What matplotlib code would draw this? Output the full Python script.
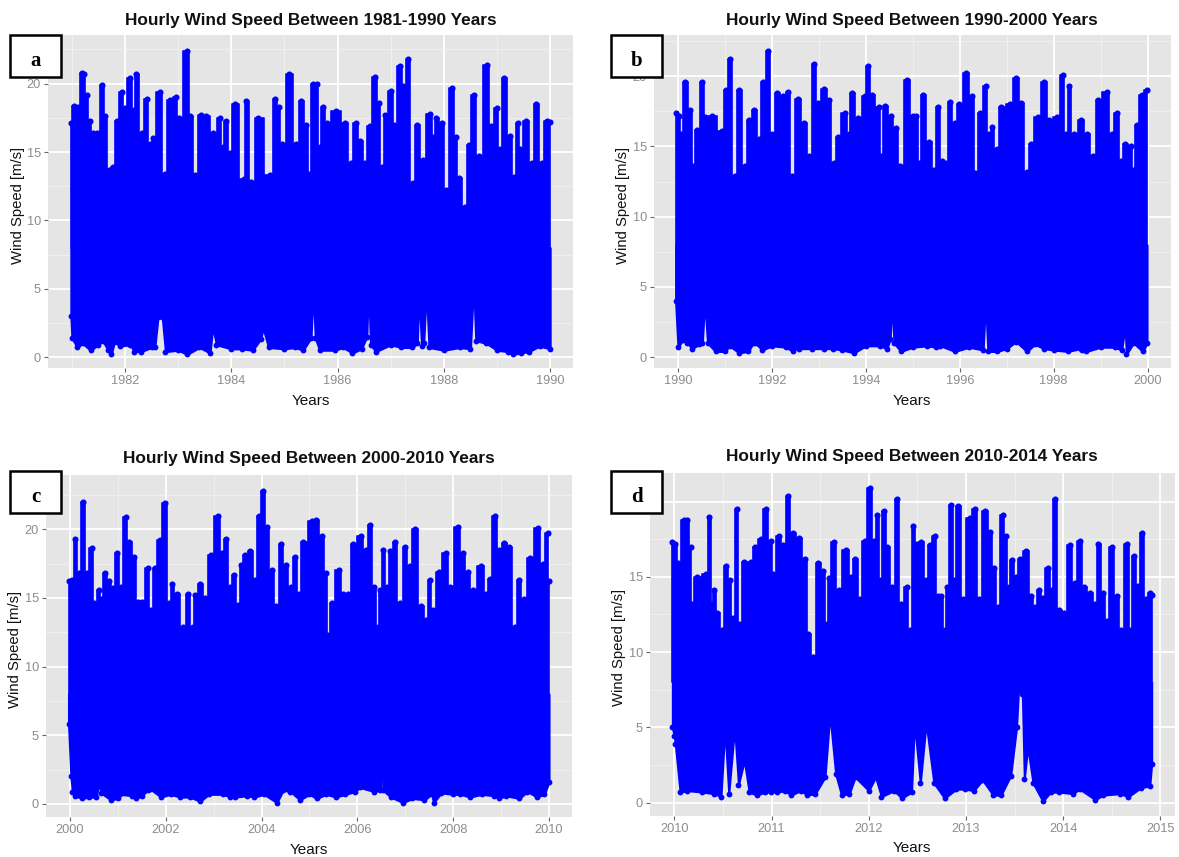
import matplotlib
matplotlib.use("Agg")
import matplotlib.pyplot as plt
from matplotlib.patches import Rectangle

plt.rcParams['font.family'] = ['Liberation Sans', 'DejaVu Sans']

W, H = 1179, 857

# ---- panel a: 1981-1990 ----
a_top_x = [1980.98,1981.03,1981.11,1981.19,1981.23,1981.28,1981.34,1981.39,1981.47,1981.57,1981.62,1981.69,1981.78,1981.85,1981.94,1981.99,1982.10,1982.16,1982.21,1982.31,1982.41,1982.47,1982.53,1982.65,1982.75,1982.84,1982.95,1983.02,1983.16,1983.23,1983.31,1983.43,1983.52,1983.66,1983.79,1983.84,1983.90,1983.98,1984.06,1984.23,1984.28,1984.37,1984.51,1984.73,1984.83,1984.90,1984.95,1985.09,1985.22,1985.32,1985.40,1985.47,1985.54,1985.62,1985.66,1985.72,1985.80,1985.97,1986.14,1986.25,1986.34,1986.43,1986.51,1986.61,1986.70,1986.77,1986.84,1986.90,1987.01,1987.07,1987.17,1987.24,1987.32,1987.41,1987.49,1987.60,1987.74,1987.80,1987.86,1987.96,1988.04,1988.15,1988.22,1988.29,1988.40,1988.47,1988.56,1988.66,1988.81,1988.88,1989.00,1989.05,1989.14,1989.25,1989.32,1989.39,1989.44,1989.54,1989.66,1989.74,1989.84,1989.94,1990.0]
a_top_y = [17.1,18.4,18.3,20.8,20.7,19.2,17.3,16.4,16.4,19.9,17.6,13.7,13.9,17.3,19.4,18.2,20.4,18.1,20.7,16.4,18.9,15.6,16.0,19.4,13.4,18.8,19.0,17.5,22.4,17.6,13.3,17.7,17.6,16.4,17.5,15.4,17.3,14.9,18.5,13.0,18.7,12.8,17.5,13.3,18.9,18.3,15.6,20.7,15.6,18.7,17.0,13.4,20.0,20.0,15.4,18.3,17.1,18.0,17.1,14.2,17.1,15.8,14.2,16.9,20.5,18.6,13.9,17.7,19.5,17.0,21.3,19.8,21.8,12.7,17.0,14.4,17.8,16.1,17.5,17.1,12.2,19.7,16.1,13.1,11.0,15.5,19.2,14.7,21.4,16.9,18.2,15.2,20.4,16.2,13.2,17.1,15.2,17.3,14.2,18.5,14.2,17.3,17.2]
a_low_x = [1980.98,1981.0,1981.1,1981.2,1981.35,1981.5,1981.58,1981.68,1981.74,1981.8,1981.9,1982.1,1982.17,1982.3,1982.5,1982.56,1982.62,1982.7,1982.76,1983,1983.17,1983.4,1983.6,1983.65,1983.72,1984,1984.2,1984.4,1984.55,1984.6,1984.7,1985,1985.2,1985.35,1985.5,1985.54,1985.58,1985.66,1985.95,1986.1,1986.28,1986.45,1986.55,1986.58,1986.62,1986.72,1987,1987.2,1987.4,1987.5,1987.53,1987.58,1987.62,1987.67,1987.72,1988,1988.3,1988.5,1988.56,1988.6,1988.8,1989,1989.2,1989.3,1989.45,1989.6,1989.8,1990]
a_low_y = [3.0,1.4,0.7,1.0,0.5,0.9,1.2,0.5,0.2,1.1,0.8,0.9,0.4,0.4,0.7,0.7,2.9,2.9,0.4,0.5,0.2,0.7,0.3,2.2,0.9,0.6,0.6,0.5,1.3,2.1,0.7,0.6,0.7,0.5,1.4,4.9,1.4,0.5,0.5,0.7,0.3,0.6,1.5,5.4,0.9,0.4,0.9,0.7,0.7,1.0,4.7,0.8,1.0,4.9,0.7,0.5,0.7,0.6,5.4,1.2,1.0,0.5,0.4,0.2,0.3,0.4,0.8,0.6]

# ---- panel b: 1990-2000 ----
b_top_x = [1989.95,1990.03,1990.07,1990.16,1990.26,1990.32,1990.40,1990.52,1990.57,1990.73,1990.93,1991.02,1991.11,1991.21,1991.29,1991.42,1991.52,1991.63,1991.72,1991.82,1991.91,1992.00,1992.12,1992.24,1992.35,1992.42,1992.55,1992.68,1992.80,1992.90,1992.98,1993.12,1993.22,1993.32,1993.40,1993.56,1993.64,1993.70,1993.84,1993.98,1994.05,1994.13,1994.28,1994.32,1994.41,1994.53,1994.65,1994.73,1994.88,1995.00,1995.07,1995.14,1995.22,1995.35,1995.46,1995.54,1995.63,1995.70,1995.79,1995.89,1995.99,1996.14,1996.26,1996.33,1996.43,1996.55,1996.63,1996.69,1996.79,1996.89,1997.07,1997.20,1997.31,1997.43,1997.51,1997.67,1997.80,1997.91,1998.07,1998.19,1998.27,1998.33,1998.43,1998.59,1998.71,1998.84,1998.95,1999.13,1999.24,1999.35,1999.43,1999.53,1999.64,1999.70,1999.77,1999.88,1999.99]
b_top_y = [17.4,17.2,15.9,19.6,17.6,13.6,16.2,19.6,17.1,17.2,16.1,19.0,21.2,12.9,19.0,13.6,16.9,17.6,15.5,19.6,21.8,15.9,18.8,18.6,18.9,12.9,18.4,16.7,14.3,20.9,18.1,19.1,18.3,13.8,15.7,17.4,15.9,18.8,17.0,18.6,20.7,18.7,17.8,14.3,17.9,17.2,16.3,13.6,19.7,17.2,17.2,13.8,18.7,15.3,13.3,17.8,14.0,13.8,18.2,16.7,18.0,20.2,18.6,13.1,17.4,19.3,15.9,16.4,14.8,17.8,18.0,19.9,18.1,13.2,15.2,17.1,19.6,16.9,17.1,20.1,15.9,19.3,15.9,16.9,15.9,14.3,18.3,18.9,15.9,17.4,14.0,15.2,15.0,13.3,16.5,18.7,19.0]
b_low_x = [1989.95,1990,1990.1,1990.2,1990.3,1990.45,1990.52,1990.56,1990.57,1990.59,1990.63,1990.8,1991,1991.1,1991.3,1991.5,1991.6,1991.62,1991.64,1991.8,1992,1992.3,1992.45,1992.55,1992.56,1992.58,1992.85,1993.1,1993.3,1993.5,1993.75,1994,1994.3,1994.45,1994.52,1994.56,1994.6,1994.75,1995,1995.3,1995.5,1995.56,1995.57,1995.59,1995.9,1996.2,1996.5,1996.55,1996.6,1996.8,1997,1997.2,1997.43,1997.6,1997.8,1998,1998.3,1998.58,1998.59,1998.6,1998.7,1999,1999.3,1999.45,1999.52,1999.55,1999.7,1999.9,1999.99]
b_low_y = [4.0,0.7,1.2,1.0,0.6,0.9,1.0,3.5,7.9,3.0,1.0,0.4,0.4,0.8,0.3,0.4,1.0,8.1,1.0,0.5,0.8,0.7,0.4,0.7,3.4,0.6,0.6,0.6,0.6,0.5,0.3,0.8,0.8,0.6,1.3,4.1,1.0,0.4,0.7,0.8,0.7,1.0,4.8,0.8,0.4,0.7,0.5,4.0,0.4,0.4,0.6,1.1,0.4,0.9,0.6,0.5,0.4,0.6,4.0,0.5,0.4,0.7,0.7,0.5,2.2,0.2,1.0,0.4,1.0]

# ---- panel c: 2000-2010 ----
c_top_x = [1999.97,2000.05,2000.11,2000.18,2000.27,2000.35,2000.46,2000.51,2000.61,2000.65,2000.73,2000.81,2000.89,2000.98,2001.06,2001.16,2001.24,2001.34,2001.42,2001.50,2001.62,2001.69,2001.77,2001.87,2001.99,2002.07,2002.13,2002.23,2002.37,2002.46,2002.56,2002.62,2002.72,2002.82,2002.94,2003.08,2003.17,2003.25,2003.35,2003.43,2003.50,2003.58,2003.66,2003.76,2003.87,2003.94,2004.04,2004.12,2004.21,2004.31,2004.40,2004.51,2004.61,2004.69,2004.79,2004.87,2005.06,2005.14,2005.26,2005.35,2005.39,2005.47,2005.61,2005.71,2005.81,2005.91,2006.07,2006.17,2006.26,2006.34,2006.42,2006.48,2006.54,2006.61,2006.69,2006.78,2006.89,2007.0,2007.09,2007.20,2007.33,2007.44,2007.51,2007.58,2007.70,2007.84,2007.94,2008.09,2008.20,2008.31,2008.41,2008.59,2008.69,2008.76,2008.87,2008.96,2009.07,2009.17,2009.28,2009.38,2009.47,2009.61,2009.76,2009.87,2009.97,2010.0]
c_top_y = [16.2,16.3,19.3,16.8,22.0,16.8,18.6,14.6,15.6,14.9,16.8,16.2,15.7,18.3,15.8,20.9,19.1,18.0,14.7,14.7,17.2,14.1,17.2,19.2,21.9,14.6,16.0,15.3,12.9,15.3,12.9,15.2,16.0,15.0,18.1,21.0,18.3,19.3,15.8,16.7,14.5,17.4,18.1,18.4,16.3,21.0,22.8,20.2,17.0,14.4,18.9,17.4,15.8,18.0,15.3,19.1,20.6,20.7,19.5,16.8,12.3,14.6,17.0,15.3,15.3,18.9,19.5,18.5,20.3,15.8,12.9,15.6,18.5,15.8,18.4,19.1,14.6,18.7,17.3,20.0,14.4,13.4,16.3,14.1,16.9,18.3,15.8,20.2,18.3,16.9,15.6,17.3,15.3,16.4,21.0,18.5,19.0,18.7,12.9,16.3,14.9,17.9,20.1,17.5,19.7,16.2]
c_low_x = [1999.97,2000.02,2000.05,2000.1,2000.25,2000.4,2000.55,2000.6,2000.65,2000.85,2001,2001.05,2001.3,2001.38,2001.5,2001.62,2001.64,2001.67,2001.9,2002.1,2002.3,2002.5,2002.72,2002.9,2003.2,2003.35,2003.45,2003.7,2003.85,2004.05,2004.32,2004.45,2004.6,2004.8,2005,2005.15,2005.35,2005.55,2005.75,2005.95,2006.05,2006.35,2006.48,2006.52,2006.53,2006.7,2006.95,2007.15,2007.4,2007.55,2007.59,2007.75,2008,2008.15,2008.35,2008.6,2008.85,2008.95,2009.1,2009.38,2009.55,2009.75,2009.9,2010]
c_low_y = [5.8,2.0,0.9,0.6,0.4,0.5,0.5,1.5,0.8,0.3,0.4,0.7,0.6,0.4,0.6,1.0,3.8,1.1,0.5,0.7,0.5,0.5,0.2,0.7,0.7,0.5,0.5,0.6,0.5,0.7,0.1,1.0,0.9,0.3,0.7,0.4,0.7,0.5,0.7,0.9,1.2,0.9,1.0,7.5,1.0,0.5,0.1,0.4,0.3,0.7,0.1,0.8,0.7,0.7,0.5,0.7,0.6,0.4,0.6,0.4,0.9,0.5,0.7,1.6]

# ---- panel d: 2010-2014 ----
d_top_x = [2009.98,2010.01,2010.04,2010.10,2010.13,2010.17,2010.18,2010.23,2010.33,2010.36,2010.39,2010.41,2010.44,2010.49,2010.53,2010.57,2010.60,2010.64,2010.67,2010.72,2010.79,2010.83,2010.89,2010.94,2010.99,2011.02,2011.08,2011.12,2011.17,2011.22,2011.28,2011.34,2011.38,2011.43,2011.48,2011.53,2011.57,2011.59,2011.64,2011.69,2011.77,2011.82,2011.86,2011.91,2011.96,2012.01,2012.05,2012.09,2012.12,2012.16,2012.19,2012.24,2012.29,2012.33,2012.39,2012.42,2012.46,2012.50,2012.54,2012.59,2012.63,2012.68,2012.71,2012.74,2012.78,2012.80,2012.85,2012.88,2012.92,2012.97,2013.04,2013.09,2013.13,2013.20,2013.25,2013.29,2013.33,2013.38,2013.41,2013.44,2013.47,2013.51,2013.56,2013.62,2013.67,2013.71,2013.75,2013.79,2013.84,2013.88,2013.92,2013.96,2014.01,2014.07,2014.12,2014.17,2014.21,2014.28,2014.33,2014.36,2014.41,2014.45,2014.50,2014.55,2014.59,2014.66,2014.69,2014.73,2014.77,2014.81,2014.85,2014.89,2014.91]
d_top_y = [17.3,17.2,15.9,18.8,18.8,17.0,13.2,15.0,15.2,19.0,13.2,14.1,12.6,11.5,15.7,14.8,12.3,19.5,11.9,16.0,16.0,17.0,17.5,19.5,17.4,15.2,17.7,17.1,20.4,17.9,17.6,16.2,11.2,9.7,15.9,15.4,11.9,14.9,17.3,14.1,16.8,15.0,16.2,13.5,17.4,20.9,17.4,19.1,14.8,19.4,17.0,14.3,20.2,13.2,14.3,11.5,18.4,17.2,17.3,14.8,17.1,17.7,13.7,13.7,11.5,14.3,19.8,14.8,19.7,13.5,18.9,19.5,13.5,19.4,18.0,15.6,13.0,19.1,17.7,14.3,16.1,15.0,16.2,16.7,13.7,13.0,14.1,13.6,15.6,14.1,20.2,12.8,12.6,17.1,14.6,17.4,14.3,13.9,13.2,17.2,13.9,12.1,17.0,13.7,11.5,17.2,11.5,16.4,14.4,17.9,13.5,13.9,13.8]
d_low_x = [2009.98,2010,2010.01,2010.06,2010.135,2010.29,2010.41,2010.48,2010.52,2010.56,2010.62,2010.66,2010.72,2010.77,2010.85,2010.93,2010.99,2011.06,2011.14,2011.2,2011.3,2011.37,2011.45,2011.55,2011.6,2011.66,2011.72,2011.8,2011.86,2012,2012.07,2012.13,2012.26,2012.34,2012.44,2012.47,2012.53,2012.59,2012.67,2012.78,2012.9,2012.99,2013.08,2013.17,2013.28,2013.36,2013.46,2013.52,2013.54,2013.58,2013.6,2013.635,2013.69,2013.79,2013.87,2013.96,2014.1,2014.17,2014.33,2014.41,2014.58,2014.67,2014.8,2014.89,2014.91]
d_low_y = [5.0,4.4,3.9,0.7,0.8,0.7,0.6,0.4,5.0,0.6,5.0,1.2,2.8,0.7,0.5,0.7,0.7,0.7,0.8,0.5,0.8,0.5,0.6,1.7,5.9,1.9,0.5,0.6,1.7,0.8,1.7,0.4,0.8,0.3,0.7,5.3,1.3,5.3,1.3,0.3,0.9,0.9,0.8,1.5,0.5,0.5,1.8,5.0,7.5,7.2,1.6,3.7,1.3,0.1,0.7,0.7,0.6,0.9,0.2,0.5,0.6,0.4,1.0,1.1,2.6]

titles = ["Hourly Wind Speed Between 1981-1990 Years",
          "Hourly Wind Speed Between 1990-2000 Years",
          "Hourly Wind Speed Between 2000-2010 Years",
          "Hourly Wind Speed Between 2010-2014 Years"]
letters = ["a", "b", "c", "d"]
x_ticks = [[1982,1984,1986,1988,1990],
           [1990,1992,1994,1996,1998,2000],
           [2000,2002,2004,2006,2008,2010],
           [2010,2011,2012,2013,2014,2015]]
y_ticks = [0, 5, 10, 15, 20]
y_labels = [["0","5","10","15","20"],
            ["0","5","10","15","20"],
            ["0","5","10","15","20"],
            ["0","5","10","15",""]]   # panel d's 20 lies behind its letter box

panels = [
    dict(top=(a_top_x,a_top_y), low=(a_low_x,a_low_y), box=(48,573,35,368), xlim=(1980.55,1990.43), ylim=(-0.8,23.56),
         title=(311,20), xlab=(311,401), ylab=(18,205), tag=(10,61,35,77)),
    dict(top=(b_top_x,b_top_y), low=(b_low_x,b_low_y), box=(654,1171,35,368), xlim=(1989.49,2000.5), ylim=(-0.78,22.94),
         title=(912,20), xlab=(912,401), ylab=(623,205), tag=(611,662,35,77)),
    dict(top=(c_top_x,c_top_y), low=(c_low_x,c_low_y), box=(46,572,475,817), xlim=(1999.5,2010.48), ylim=(-0.95,23.95),
         title=(309,458), xlab=(309,850), ylab=(15,649), tag=(10,61,471,513)),
    dict(top=(d_top_x,d_top_y), low=(d_low_x,d_low_y), box=(650,1175,473,816), xlim=(2009.75,2015.15), ylim=(-0.886,21.9),
         title=(912,456), xlab=(912,848), ylab=(619,647), tag=(611,662,471,513)),
]

BLUE = "#0000FF"
BASE = 8
fig = plt.figure(figsize=(W/100, H/100), dpi=100, facecolor="white")

for i, p in enumerate(panels):
    l, r, t, b = p["box"]
    ax = fig.add_axes([l/W, 1-b/H, (r-l)/W, (b-t)/H], facecolor="#E5E5E5")
    ax.set_xticks(x_ticks[i]); ax.set_yticks(y_ticks, labels=y_labels[i])
    xt = x_ticks[i]; step = xt[1]-xt[0]
    ax.set_xticks([v+step/2 for v in [xt[0]-step]+xt], minor=True)
    ax.set_yticks([2.5,7.5,12.5,17.5,22.5], minor=True)
    ax.grid(True, which="major", color="white", lw=1.3)
    ax.grid(True, which="minor", color="#F2F2F2", lw=0.6)
    ax.set_axisbelow(True)
    for s in ax.spines.values():
        s.set_visible(False)
    ax.tick_params(which="major", colors="#8C8C8C", labelsize=9.2, length=3, width=0.8, pad=2)
    ax.tick_params(which="major", axis="both", color="#666666")
    ax.tick_params(which="minor", length=0)
    tx, ty = p["top"]; lx, ly = p["low"]
    ax.fill_between(tx, BASE, ty, color=BLUE, lw=1.2, step="mid")
    ax.fill_between(lx, ly, BASE, color=BLUE, lw=1.5)
    ax.plot(tx, ty, "o", color=BLUE, ms=4.4, mew=0)
    ax.plot(lx, ly, "o", color=BLUE, ms=4.2, mew=0)
    ax.set_xlim(*p["xlim"]); ax.set_ylim(*p["ylim"])

    fig.text(p["title"][0]/W, 1-p["title"][1]/H, titles[i], ha="center", va="center",
             fontsize=12.4, fontweight="bold", color="#111111")
    fig.text(p["xlab"][0]/W, 1-p["xlab"][1]/H, "Years", ha="center", va="center",
             fontsize=11, color="#111111")
    fig.text(p["ylab"][0]/W, 1-p["ylab"][1]/H, "Wind Speed [m/s]", ha="center", va="center",
             rotation=90, fontsize=10.7, color="#111111")
    x0, x1, y0, y1 = p["tag"]
    fig.add_artist(Rectangle((x0/W, 1-y1/H), (x1-x0)/W, (y1-y0)/H, transform=fig.transFigure,
                             facecolor="white", edgecolor="black", lw=1.8, zorder=5))
    fig.text((x0+x1)/2/W, 1-(y0+y1)/2/H-0.006, letters[i], ha="center", va="center", fontsize=15,
             fontweight="bold", family="Liberation Serif", color="black", zorder=6)

fig.savefig("out.png", dpi=100)
